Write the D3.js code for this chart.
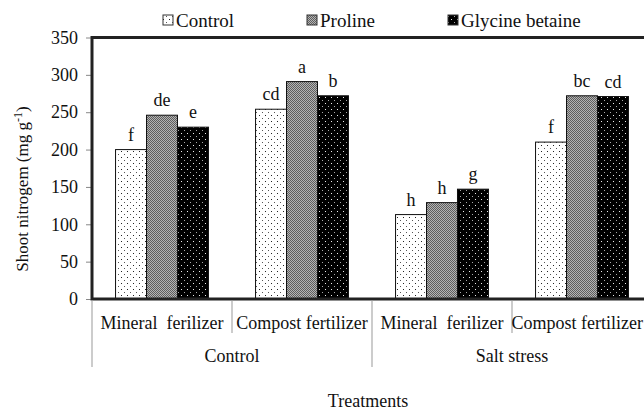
<!DOCTYPE html>
<html>
<head>
<meta charset="utf-8">
<script src="https://cdn.jsdelivr.net/npm/d3@7"></script>
<style>
  body { margin: 0; background: #fff; }
  svg text { font-family: "Liberation Serif", "DejaVu Serif", serif; }
</style>
</head>
<body>
<div id="chart"></div>
<script>
// Data.
const subGroups = ['Mineral  ferilizer', 'Compost fertilizer', 'Mineral  ferilizer', 'Compost fertilizer'];
const mainGroups = ['Control', 'Salt stress'];
const seriesNames = ['Control', 'Proline', 'Glycine betaine'];
const controlValues = [200, 254, 113, 210];
const prolineValues = [246, 291, 129, 272];
const glycineValues = [230, 272, 147, 271];
const controlLetters = ['f', 'cd', 'h', 'f'];
const prolineLetters = ['de', 'a', 'h', 'bc'];
const glycineLetters = ['e', 'b', 'g', 'cd'];
const yTicks = [0, 50, 100, 150, 200, 250, 300, 350];

const width = 644, height = 412;
const margin = {top: 37.5, left: 92, bottom: 299};
const plotRight = 652;
const serif = '"Liberation Serif", "DejaVu Serif", serif';

const svg = d3.select('#chart').append('svg')
    .attr('width', width)
    .attr('height', height)
    .attr('font-family', serif);

// Fill patterns.
const defs = svg.append('defs');
const pCtrl = defs.append('pattern').attr('id', 'pCtrl')
    .attr('width', 6).attr('height', 6).attr('patternUnits', 'userSpaceOnUse');
pCtrl.append('rect').attr('width', 6).attr('height', 6).attr('fill', '#fff');
pCtrl.append('rect').attr('x', 1).attr('y', 1).attr('width', 1).attr('height', 1).attr('fill', '#222');
pCtrl.append('rect').attr('x', 4).attr('y', 4).attr('width', 1).attr('height', 1).attr('fill', '#555');

const pPro = defs.append('pattern').attr('id', 'pPro')
    .attr('width', 2).attr('height', 2).attr('patternUnits', 'userSpaceOnUse');
pPro.append('rect').attr('width', 2).attr('height', 2).attr('fill', '#b4b4b4');
pPro.append('rect').attr('width', 1).attr('height', 1).attr('fill', '#5e5e5e');
pPro.append('rect').attr('x', 1).attr('y', 1).attr('width', 1).attr('height', 1).attr('fill', '#5e5e5e');

const pGly = defs.append('pattern').attr('id', 'pGly')
    .attr('width', 6).attr('height', 6).attr('patternUnits', 'userSpaceOnUse');
pGly.append('rect').attr('width', 6).attr('height', 6).attr('fill', '#000');
pGly.append('rect').attr('x', 1).attr('y', 1).attr('width', 1).attr('height', 1).attr('fill', '#eee');
pGly.append('rect').attr('x', 4).attr('y', 4).attr('width', 1).attr('height', 1).attr('fill', '#aaa');

const fills = ['url(#pCtrl)', 'url(#pPro)', 'url(#pGly)'];
const series = [
    {name: seriesNames[0], values: controlValues, letters: controlLetters},
    {name: seriesNames[1], values: prolineValues, letters: prolineLetters},
    {name: seriesNames[2], values: glycineValues, letters: glycineLetters}
];

// Scales.
const x0 = d3.scaleBand()
    .domain(d3.range(subGroups.length))
    .range([margin.left, plotRight])
    .padding(0);
const x1 = d3.scaleBand()
    .domain(d3.range(series.length))
    .range([0, x0.bandwidth()])
    .paddingInner(0)
    .paddingOuter(0.76);
const y = d3.scaleLinear()
    .domain([0, 350])
    .range([margin.bottom, margin.top]);

// Y axis ticks and labels.
const yAxis = svg.append('g')
    .attr('transform', `translate(${margin.left},0)`)
    .call(d3.axisLeft(y).tickValues(yTicks).tickSize(6).tickPadding(8));
yAxis.attr('font-family', serif).attr('font-size', 18);
yAxis.select('.domain').remove();
yAxis.selectAll('line').attr('stroke', '#888');
yAxis.selectAll('text').attr('fill', '#111');

// Bars.
series.forEach((s, si) => {
    svg.append('g').selectAll('rect')
        .data(s.values)
        .join('rect')
        .attr('x', (d, i) => x0(i) + x1(si))
        .attr('y', d => y(d))
        .attr('width', x1.bandwidth())
        .attr('height', d => y(0) - y(d))
        .attr('fill', fills[si])
        .attr('stroke', '#111')
        .attr('stroke-width', 1);

    svg.append('g').selectAll('text')
        .data(s.values)
        .join('text')
        .attr('x', (d, i) => x0(i) + x1(si) + x1.bandwidth() / 2)
        .attr('y', d => y(d) - 9)
        .attr('text-anchor', 'middle')
        .attr('font-size', 18)
        .attr('fill', '#111')
        .text((d, i) => s.letters[i]);
});

// Plot frame (top, left, bottom).
svg.append('path')
    .attr('d', `M${plotRight},${y(350)}H${margin.left}V${y(0)}H${plotRight}`)
    .attr('fill', 'none')
    .attr('stroke', '#222')
    .attr('stroke-width', 3);

// Category separators below the axis.
const sepGroup = svg.append('g').attr('stroke', '#999').attr('stroke-width', 1);
subGroups.forEach((g, i) => {
    const xs = x0(i);
    const long = i % 2 === 0;
    sepGroup.append('line')
        .attr('x1', xs).attr('x2', xs)
        .attr('y1', y(0) + 1)
        .attr('y2', long ? 367 : 333);
});

// Sub group labels.
const subLabels = svg.append('g').selectAll('text')
    .data(subGroups)
    .join('text')
    .attr('x', (d, i) => x0(i) + x0.bandwidth() / 2)
    .attr('y', 329)
    .attr('text-anchor', 'middle')
    .attr('font-size', 18)
    .style('white-space', 'pre')
    .attr('fill', '#111')
    .text(d => d);
// Keep the last label inside the window.
subLabels.each(function() {
    const box = this.getBBox();
    const over = box.x + box.width - (width - 1);
    if (over > 0) d3.select(this).attr('x', +d3.select(this).attr('x') - over);
});

// Main group labels.
svg.append('g').selectAll('text')
    .data(mainGroups)
    .join('text')
    .attr('x', (d, i) => x0(i * 2) + x0.bandwidth())
    .attr('y', 362)
    .attr('text-anchor', 'middle')
    .attr('font-size', 18)
    .attr('fill', '#111')
    .text(d => d);

// Axis titles.
svg.append('text')
    .attr('x', 368)
    .attr('y', 407)
    .attr('text-anchor', 'middle')
    .attr('font-size', 18)
    .attr('fill', '#111')
    .text('Treatments');

const yTitle = svg.append('text')
    .attr('transform', 'translate(28,189) rotate(-90)')
    .attr('text-anchor', 'middle')
    .attr('font-size', 17)
    .attr('fill', '#111');
yTitle.append('tspan').text('Shoot nitrogem (mg g');
yTitle.append('tspan').attr('dy', -6).attr('font-size', 12).text('-1');
yTitle.append('tspan').attr('dy', 6).text(')');

// Legend.
const legendX = [163, 307, 448];
const legend = svg.append('g');
series.forEach((s, si) => {
    legend.append('rect')
        .attr('x', legendX[si])
        .attr('y', 15)
        .attr('width', 10)
        .attr('height', 10)
        .attr('fill', fills[si])
        .attr('stroke', '#333')
        .attr('stroke-width', 1);
    legend.append('text')
        .attr('x', legendX[si] + 13)
        .attr('y', 27)
        .attr('font-size', 19)
        .attr('fill', '#111')
        .text(s.name);
});
</script>
</body>
</html>
